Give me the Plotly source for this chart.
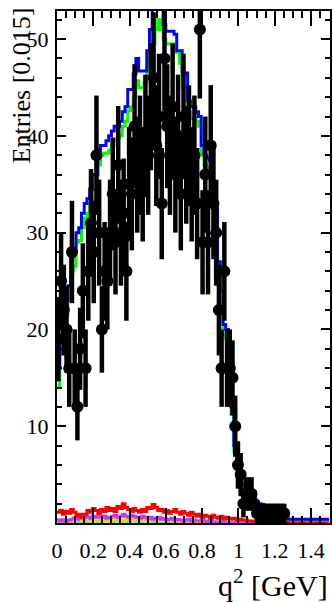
import numpy as np
import plotly.graph_objects as go

bin_width = 0.015

data_counts = [19, 25, 22, 20, 16, 28, 16, 12, 18, 24,
               16, 26, 31, 28, 38, 30, 20, 26, 25, 30,
               34, 29, 37, 30, 32, 26, 35, 34, 41, 36,
               38, 35, 40, 38, 43, 46, 39, 42, 33, 48,
               41, 38, 43, 36, 40, 34, 42, 37, 39, 35,
               38, 33, 51, 29, 36, 29, 39, 33, 30, 22,
               16, 26, 16, 16, 15, 10, 6, 5, 2, 3,
               3, 3, 2, 1, 1, 1, 1, 1, 1, 1,
               1, 1, 1, 1, 0, 0, 0, 0, 0, 0,
               0, 0, 0, 0, 0, 0, 0, 0, 0, 0]

total_fit = [16, 19, 21, 23, 24.5, 27.5, 28, 30, 30.5, 32,
             33, 33.5, 34.5, 36, 36, 38.5, 39, 39, 39.5, 40,
             40.5, 41, 41, 41.5, 42.5, 43, 44.8, 44.8, 46.4, 48,
             46.7, 46.7, 46.7, 48.8, 51, 54, 55, 55, 54, 51.5,
             50.8, 50.8, 50.8, 50.5, 48.8, 48.8, 46.5, 46.5, 43.6, 43,
             43, 42.5, 42, 39, 38, 37.7, 37.5, 33.5, 33, 27,
             24, 20.5, 20, 14, 12, 8, 6.5, 5, 4, 3.5,
             3.4, 3, 2.5, 2.2, 2, 1.9, 1.8, 1.2, 1.0, 0.9,
             0.8, 0.7, 0.6, 0.6, 0.5, 0.4, 0.4, 0.4, 0.4, 0.4,
             0.4, 0.4, 0.4, 0.4, 0.4, 0.4, 0.4, 0.4, 0.4, 0.4]

signal = [14, 17.5, 19.5, 21.5, 23, 26, 26.5, 29, 29.2, 30.5,
          31.5, 32, 33, 34.5, 34.5, 37, 38, 38.2, 38.2, 38.5,
          39, 39.5, 39.8, 40, 41, 41.5, 42.6, 43, 44, 45.7,
          45, 45, 45.5, 47, 48.5, 49.5, 51, 52, 51, 50,
          49.5, 49.5, 49.5, 49, 48.6, 47.5, 45, 45, 42.5, 41.8,
          41.8, 41.5, 41, 38, 37, 36.7, 36.5, 32.5, 32, 26,
          23, 19.5, 19, 13.2, 11.2, 7.4, 6, 4.6, 3.6, 3.2,
          3.1, 2.8, 2.3, 2.0, 1.8, 1.7, 1.6, 1.0, 0.8, 0.7,
          0.6, 0.5, 0.4, 0.4, 0.3, 0.2, 0.2, 0.2, 0.2, 0.2,
          0.2, 0.2, 0.2, 0.2, 0.2, 0.2, 0.2, 0.2, 0.2, 0.2]

bkg_red = [1.1, 1.3, 0.9, 1.2, 1.0, 1.4, 1.1, 0.7, 0.9, 0.6,
           0.9, 1.3, 1.1, 1.5, 1.3, 1.0, 1.4, 1.2, 1.6, 1.3,
           1.5, 1.2, 1.7, 1.5, 2.0, 1.6, 1.4, 1.2, 1.5, 1.3,
           1.1, 1.4, 1.2, 1.6, 1.5, 1.9, 1.6, 1.3, 1.4, 1.1,
           1.3, 1.0, 1.2, 1.4, 1.1, 0.9, 1.2, 1.0, 0.8, 1.1,
           0.9, 0.7, 0.9, 0.6, 0.8, 0.7, 0.5, 0.8, 0.6, 0.5,
           0.7, 0.4, 0.6, 0.5, 0.4, 0.5, 0.3, 0.4, 0.3, 0.3,
           0.2, 0.2, 0.2, 0.2, 0.2, 0.1, 0.1, 0.1, 0.1, 0.1,
           0.1, 0.1, 0.1, 0.1, 0.1, 0.0, 0.0, 0.0, 0.0, 0.0,
           0.0, 0.0, 0.0, 0.0, 0.0, 0.0, 0.0, 0.0, 0.0, 0.0]

bkg_magenta = [0.3, 0.2, 0.3, 0.2, 0.3, 0.4, 0.5, 0.4, 0.6, 0.5,
               0.7, 0.6, 0.5, 0.7, 0.6, 0.8, 0.6, 0.7, 0.5, 0.6,
               0.7, 0.8, 0.6, 0.7, 0.9, 0.7, 0.6, 0.8, 0.7, 0.6,
               0.5, 0.7, 0.6, 0.5, 0.6, 0.4, 0.5, 0.6, 0.4, 0.5,
               0.3, 0.4, 0.5, 0.3, 0.4, 0.3, 0.2, 0.3, 0.4, 0.2,
               0.3, 0.2, 0.2, 0.3, 0.2, 0.1, 0.2, 0.1, 0.1, 0.1,
               0.1, 0.0, 0.0, 0.0, 0.0, 0.0, 0.0, 0.0, 0.0, 0.0,
               0.0, 0.0, 0.0, 0.0, 0.0, 0.0, 0.0, 0.0, 0.0, 0.0,
               0.0, 0.0, 0.0, 0.0, 0.0, 0.0, 0.0, 0.0, 0.0, 0.0,
               0.0, 0.0, 0.0, 0.0, 0.0, 0.0, 0.0, 0.0, 0.0, 0.0]

bkg_orange = [0.2, 0.3, 0.2, 0.1, 0.2, 0.3, 0.2, 0.3, 0.4, 0.2,
              0.3, 0.2, 0.4, 0.3, 0.5, 0.3, 0.2, 0.4, 0.3, 0.2,
              0.4, 0.3, 0.5, 0.3, 0.2, 0.3, 0.4, 0.5, 0.3, 0.2,
              0.3, 0.4, 0.2, 0.3, 0.2, 0.4, 0.3, 0.2, 0.3, 0.2,
              0.2, 0.3, 0.2, 0.2, 0.1, 0.2, 0.2, 0.1, 0.2, 0.1,
              0.1, 0.1, 0.2, 0.1, 0.1, 0.1, 0.1, 0.0, 0.1, 0.0,
              0.0, 0.0, 0.0, 0.0, 0.0, 0.0, 0.0, 0.0, 0.0, 0.0,
              0.0, 0.0, 0.0, 0.0, 0.0, 0.0, 0.0, 0.0, 0.0, 0.0,
              0.0, 0.0, 0.0, 0.0, 0.0, 0.0, 0.0, 0.0, 0.0, 0.0,
              0.0, 0.0, 0.0, 0.0, 0.0, 0.0, 0.0, 0.0, 0.0, 0.0]

bkg_cyan = [0.1, 0.1, 0.0, 0.1, 0.1, 0.2, 0.1, 0.1, 0.2, 0.1,
            0.2, 0.1, 0.2, 0.3, 0.2, 0.1, 0.2, 0.2, 0.3, 0.2,
            0.1, 0.2, 0.3, 0.2, 0.2, 0.1, 0.2, 0.3, 0.2, 0.2,
            0.1, 0.2, 0.2, 0.3, 0.2, 0.1, 0.2, 0.2, 0.1, 0.2,
            0.1, 0.1, 0.2, 0.1, 0.1, 0.2, 0.1, 0.1, 0.1, 0.2,
            0.1, 0.1, 0.1, 0.1, 0.1, 0.1, 0.1, 0.1, 0.0, 0.0,
            0.0, 0.0, 0.0, 0.0, 0.0, 0.0, 0.0, 0.0, 0.0, 0.0,
            0.0, 0.0, 0.0, 0.0, 0.0, 0.0, 0.0, 0.0, 0.0, 0.0,
            0.0, 0.0, 0.0, 0.0, 0.0, 0.0, 0.0, 0.0, 0.0, 0.0,
            0.0, 0.0, 0.0, 0.0, 0.0, 0.0, 0.0, 0.0, 0.0, 0.0]

x_tick_vals = [0, 0.2, 0.4, 0.6, 0.8, 1.0, 1.2, 1.4]
x_tick_text = ["0", "0.2", "0.4", "0.6", "0.8", "1", "1.2", "1.4"]
y_tick_vals = [10, 20, 30, 40, 50]
y_tick_text = ["10", "20", "30", "40", "50"]

n_bins = len(total_fit)
edges = np.arange(n_bins + 1) * bin_width
centers = 0.5 * (edges[:-1] + edges[1:])


def step_y(vals):
    return list(vals) + [vals[-1]]


fig = go.Figure()

hist_series = [
    (signal, "#00ff00"),
    (total_fit, "#0000ff"),
    (bkg_cyan, "#00ffff"),
    (bkg_orange, "#ffcc00"),
    (bkg_magenta, "#cc33ff"),
    (bkg_red, "#ff0000"),
]
for vals, col in hist_series:
    fig.add_trace(go.Scatter(
        x=edges, y=step_y(vals), mode="lines", line_shape="hv",
        line=dict(color=col, width=3), showlegend=False))

counts = np.array(data_counts, dtype=float)
mask = counts > 0
fig.add_trace(go.Scatter(
    x=centers[mask], y=counts[mask], mode="markers",
    marker=dict(symbol="circle", size=12, color="black"),
    error_y=dict(type="data", array=np.sqrt(counts[mask]), color="black",
                 thickness=4.5, width=0),
    showlegend=False))

serif = "Liberation Serif, Times New Roman, serif"

fig.update_layout(
    width=333, height=602,
    margin=dict(l=57, r=1, t=11, b=79),
    paper_bgcolor="white", plot_bgcolor="white",
    font=dict(family=serif, color="black"),
    xaxis=dict(range=[0, 1.505], tickvals=x_tick_vals, ticktext=x_tick_text,
               ticks="inside", ticklen=15, tickwidth=1.5, tickcolor="black",
               showline=True, linecolor="black", linewidth=2, mirror="ticks",
               showgrid=False, zeroline=False,
               minor=dict(dtick=0.05, ticks="inside", ticklen=7, tickwidth=1.5,
                          tickcolor="black", showgrid=False),
               tickfont=dict(family=serif, size=22, color="black"),
               ticklabelstandoff=7),
    yaxis=dict(range=[0, 52.9], tickvals=y_tick_vals, ticktext=y_tick_text,
               ticks="inside", ticklen=9, tickwidth=1.5, tickcolor="black",
               showline=True, linecolor="black", linewidth=2, mirror="ticks",
               showgrid=False, zeroline=False,
               minor=dict(tick0=0, dtick=2, ticks="inside", ticklen=5,
                          tickwidth=1.5, tickcolor="black", showgrid=False),
               tickfont=dict(family=serif, size=22, color="black"),
               ticklabelstandoff=2),
    annotations=[
        dict(text="q<sup>2</sup> [GeV]", xref="paper", yref="paper",
             x=1.0, y=-0.118, xanchor="right", yanchor="middle",
             showarrow=False, font=dict(family=serif, size=30, color="black")),
        dict(text="Entries [0.015]", xref="paper", yref="paper",
             x=-0.131, y=0.855, xanchor="center", yanchor="middle",
             textangle=-90, showarrow=False,
             font=dict(family=serif, size=26, color="black")),
    ],
)

fig.write_html("out.html")
